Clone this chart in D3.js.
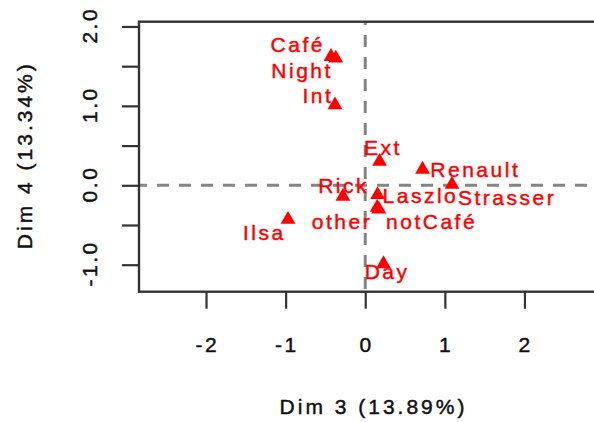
<!DOCTYPE html>
<html>
<head>
<meta charset="utf-8">
<script src="https://cdn.jsdelivr.net/npm/d3@7/dist/d3.min.js"></script>
<style>
  html, body { margin: 0; padding: 0; background: #fff; }
  svg { display: block; }
  text { font-family: "Liberation Sans", Arial, Helvetica, sans-serif; }
</style>
</head>
<body>
<svg id="chart" width="594" height="422"></svg>
<script>
// ---- data ----
const categories = ["Café", "Night", "Int", "Ext", "Renault", "Strasser", "Rick", "Laszlo", "other", "notCafé", "Ilsa", "Day"];
const dim3 = [-0.43, -0.37, -0.38, 0.18, 0.72, 1.09, -0.28, 0.155, 0.15, 0.17, -0.97, 0.23];
const dim4 = [1.62, 1.60, 1.01, 0.30, 0.20, 0.01, -0.14, -0.12, -0.28, -0.30, -0.43, -0.99];
// label anchor positions (autoLab output, in data units)
const labDim3 = [-0.863, -0.809, -0.611, 0.207, 1.367, 1.766, -0.288, 0.678, -0.307, 0.818, -1.284, 0.259];
const labDim4 = [1.767, 1.45, 1.127, 0.471, 0.205, -0.16, -0.006, -0.13, -0.45, -0.46, -0.594, -1.09];
const xTicks = [-2, -1, 0, 1, 2];
const xTickLabels = ["-2", "-1", "0", "1", "2"];
const yTicks = [-1.0, -0.5, 0.0, 0.5, 1.0, 1.5, 2.0];
const yTickLabels = ["-1.0", "", "0.0", "", "1.0", "", "2.0"];
const xTitle = "Dim 3 (13.89%)";
const yTitle = "Dim 4 (13.34%)";

// ---- layout ----
const svg = d3.select("#chart");
const L = 139, R = 605, T = 21.7, B = 291.7;
const x = d3.scaleLinear().domain([-2.842, 3.012]).range([L, R]);
const y = d3.scaleLinear().domain([-1.34, 2.06]).range([B, T]);
const FS = 21, LS = 2.5;
const axisCol = "#333";
const textStroke = 0.45;

// dashed reference lines
svg.append("line").attr("x1", L).attr("x2", R).attr("y1", y(0)).attr("y2", y(0))
  .attr("stroke", "#848484").attr("stroke-width", 3).attr("stroke-dasharray", "12,10")
  .attr("stroke-dashoffset", 4);
svg.append("line").attr("x1", x(0)).attr("x2", x(0)).attr("y1", T).attr("y2", B)
  .attr("stroke", "#848484").attr("stroke-width", 3).attr("stroke-dasharray", "12,10")
  .attr("stroke-dashoffset", 8.7);

// axes
const xAxis = d3.axisBottom(x).tickValues(xTicks).tickSize(17).tickSizeOuter(0).tickFormat("");
const gx = svg.append("g").attr("transform", `translate(0,${B})`).call(xAxis);
gx.select(".domain").remove();
gx.selectAll("line").attr("stroke", axisCol).attr("stroke-width", 2.2);

const yAxis = d3.axisLeft(y).tickValues(yTicks).tickSize(17).tickSizeOuter(0).tickFormat("");
const gy = svg.append("g").attr("transform", `translate(${L},0)`).call(yAxis);
gy.select(".domain").remove();
gy.selectAll("line").attr("stroke", axisCol).attr("stroke-width", 2.2);

function styleText(sel, fill, ls) {
  return sel.attr("font-size", FS).attr("letter-spacing", ls)
    .attr("fill", fill).attr("stroke", fill).attr("stroke-width", textStroke);
}

// tick labels
styleText(svg.append("g").selectAll("text").data(xTicks).join("text")
  .attr("x", d => x(d) + LS / 2).attr("y", 351.5)
  .attr("text-anchor", "middle"), "#111", LS)
  .text((d, i) => xTickLabels[i]);

styleText(svg.append("g").selectAll("text").data(yTicks).join("text")
  .attr("transform", d => `translate(97,${y(d) - LS / 2}) rotate(-90)`)
  .attr("text-anchor", "middle"), "#111", LS)
  .text((d, i) => yTickLabels[i]);

// titles
styleText(svg.append("text").attr("x", (L + R) / 2 + 1.5).attr("y", 414)
  .attr("text-anchor", "middle"), "#111", 3).text(xTitle);
styleText(svg.append("text").attr("transform", `translate(32,${(T + B) / 2 - 1.5}) rotate(-90)`)
  .attr("text-anchor", "middle"), "#111", 3).text(yTitle);

// box
svg.append("rect").attr("x", L).attr("y", T).attr("width", R - L).attr("height", B - T)
  .attr("fill", "none").attr("stroke", axisCol).attr("stroke-width", 2.4);

// points
const tri = d3.symbol().type(d3.symbolTriangle).size(95);
svg.append("g").selectAll("path").data(categories).join("path")
  .attr("d", tri)
  .attr("transform", (d, i) => `translate(${x(dim3[i])},${y(dim4[i])})`)
  .attr("fill", "#ff0000");

// labels
styleText(svg.append("g").selectAll("text").data(categories).join("text")
  .attr("x", (d, i) => x(labDim3[i]) + LS / 2)
  .attr("y", (d, i) => y(labDim4[i]) + 7.5)
  .attr("text-anchor", "middle"), "#ff0000", LS)
  .text(d => d);
</script>
</body>
</html>
